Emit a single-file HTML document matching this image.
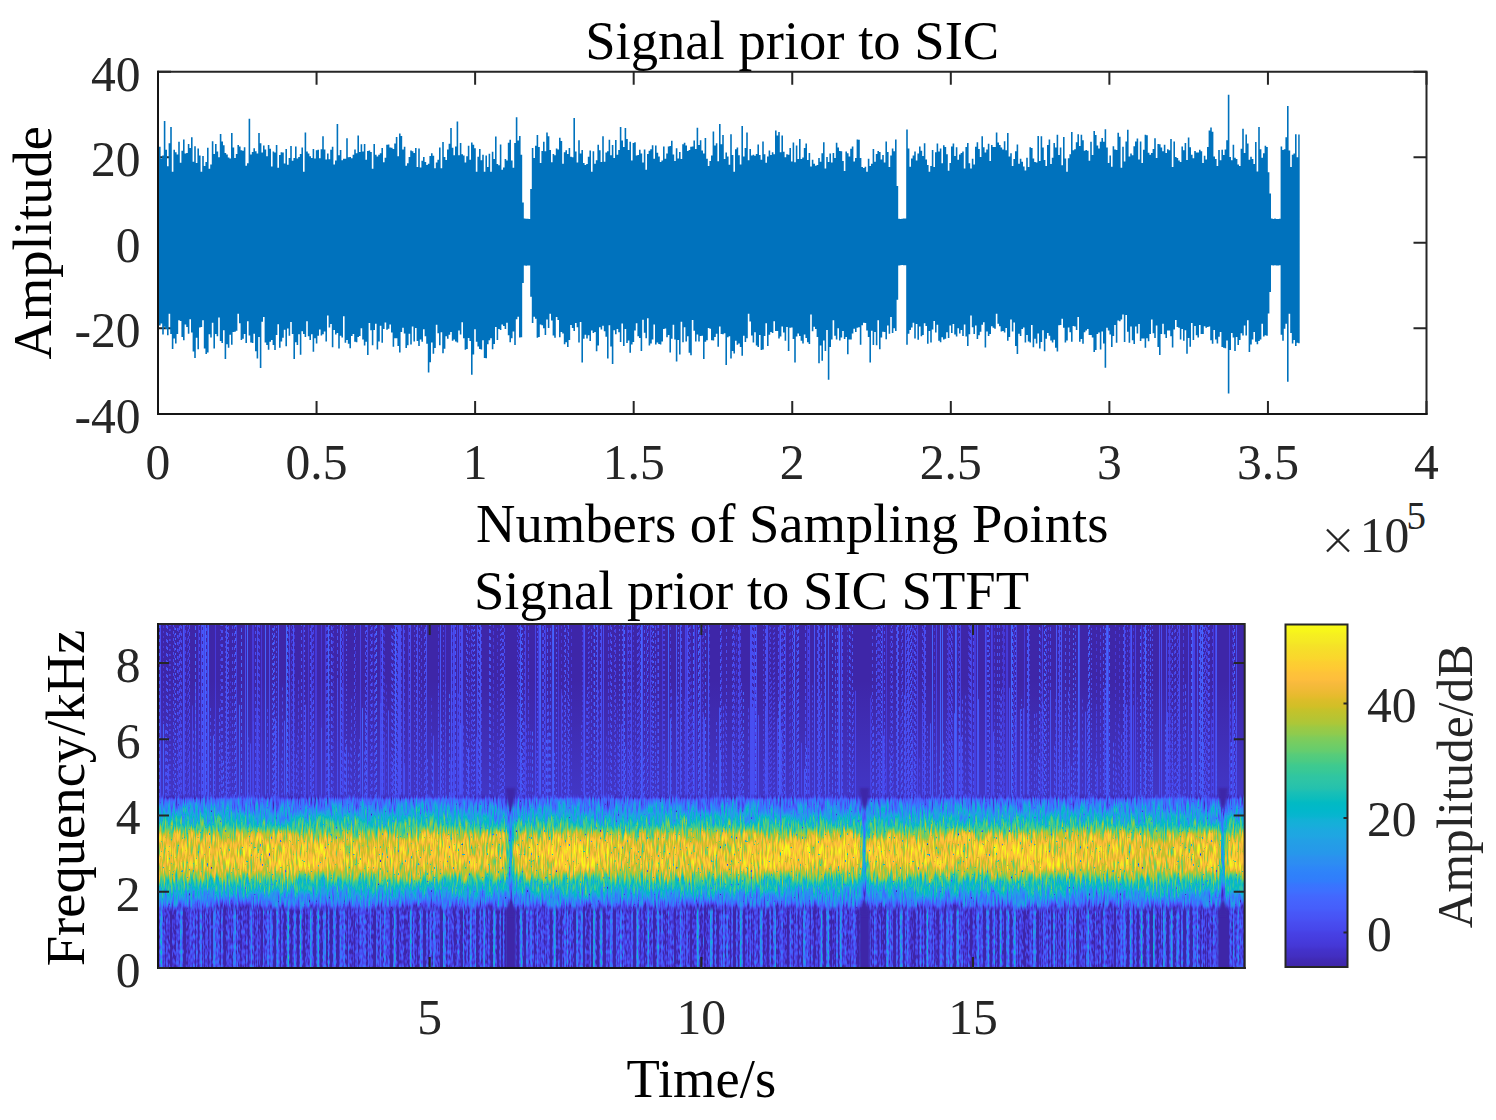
<!DOCTYPE html><html><head><meta charset="utf-8"><style>html,body{margin:0;padding:0;background:#fff;overflow:hidden}svg{display:block}text{font-family:"Liberation Serif",serif}</style></head><body><svg width="1496" height="1120" viewBox="0 0 1496 1120"><rect width="1496" height="1120" fill="#fff"/><path d="M158 413.9v-13M158 71.7v13M316.56 413.9v-13M316.56 71.7v13M475.12 413.9v-13M475.12 71.7v13M633.69 413.9v-13M633.69 71.7v13M792.25 413.9v-13M792.25 71.7v13M950.81 413.9v-13M950.81 71.7v13M1109.38 413.9v-13M1109.38 71.7v13M1267.94 413.9v-13M1267.94 71.7v13M1426.5 413.9v-13M1426.5 71.7v13M158 71.7h13M1426.5 71.7h-13M158 157.25h13M1426.5 157.25h-13M158 242.8h13M1426.5 242.8h-13M158 328.35h13M1426.5 328.35h-13M158 413.9h13M1426.5 413.9h-13" stroke="#262626" stroke-width="2" fill="none"/><path d="M159.0 242.8V146.7H160.6V158.4H162.2V155.6H163.8V120.9H165.4V149.7H167.0V166.2H168.6V143.2H170.2V127.1H171.8V171.8H173.4V149.8H175.0V152.3H176.6V154.4H178.2V141.8H179.8V162.7H181.4V150.8H183.0V139.5H184.6V153.5H186.2V153.1H187.8V143.9H189.4V148.1H191.0V137.3H192.6V161.7H194.2V146.2H195.8V163.1H197.4V148.5H199.0V155.4H200.6V171.8H202.2V156.0H203.8V165.9H205.4V162.1H207.0V147.8H208.6V168.8H210.2V164.4H211.8V141.2H213.4V154.0H215.0V144.1H216.6V151.5H218.2V157.3H219.8V133.9H221.4V141.6H223.0V145.3H224.6V152.9H226.2V154.4H227.8V157.4H229.4V158.5H231.0V132.9H232.6V147.6H234.2V158.0H235.8V154.1H237.4V145.0H239.0V146.5H240.6V150.3H242.2V150.8H243.8V147.2H245.4V165.8H247.0V163.3H248.6V118.8H250.2V154.6H251.8V152.0H253.4V148.3H255.0V151.3H256.6V153.4H258.2V133.0H259.8V143.3H261.4V152.4H263.0V145.6H264.6V149.4H266.2V156.2H267.8V145.1H269.4V148.8H271.0V166.6H272.6V151.5H274.2V152.6H275.8V145.1H277.4V167.8H279.0V155.1H280.6V152.2H282.2V152.5H283.8V163.5H285.4V149.0H287.0V164.8H288.6V158.0H290.2V146.1H291.8V160.7H293.4V158.0H295.0V146.4H296.6V158.4H298.2V157.0H299.8V154.0H301.4V147.4H303.0V171.8H304.6V132.5H306.2V151.4H307.8V153.4H309.4V156.2H311.0V158.1H312.6V149.1H314.2V158.5H315.8V150.2H317.4V149.8H319.0V158.3H320.6V149.3H322.2V136.2H323.8V149.4H325.4V159.5H327.0V153.5H328.6V159.2H330.2V149.8H331.8V146.8H333.4V164.5H335.0V160.4H336.6V123.9H338.2V155.3H339.8V150.1H341.4V160.2H343.0V158.7H344.6V158.7H346.2V138.2H347.8V157.3H349.4V157.1H351.0V158.2H352.6V154.7H354.2V149.5H355.8V153.2H357.4V135.5H359.0V151.9H360.6V144.3H362.2V151.4H363.8V144.1H365.4V159.8H367.0V150.9H368.6V150.5H370.2V152.0H371.8V168.7H373.4V144.0H375.0V154.8H376.6V156.5H378.2V154.7H379.8V153.2H381.4V148.0H383.0V162.2H384.6V157.7H386.2V144.7H387.8V144.4H389.4V147.4H391.0V147.7H392.6V149.1H394.2V143.6H395.8V137.0H397.4V156.3H399.0V133.5H400.6V136.1H402.2V149.6H403.8V146.7H405.4V165.8H407.0V163.3H408.6V157.0H410.2V150.5H411.8V151.3H413.4V152.9H415.0V147.9H416.6V167.1H418.2V148.5H419.8V167.4H421.4V160.7H423.0V157.1H424.6V162.0H426.2V165.1H427.8V163.8H429.4V156.1H431.0V153.3H432.6V155.8H434.2V168.2H435.8V162.6H437.4V159.7H439.0V147.4H440.6V168.2H442.2V141.9H443.8V157.1H445.4V160.0H447.0V149.4H448.6V143.7H450.2V128.0H451.8V147.8H453.4V155.3H455.0V146.6H456.6V121.6H458.2V155.3H459.8V142.9H461.4V154.2H463.0V155.4H464.6V162.4H466.2V156.2H467.8V145.8H469.4V159.7H471.0V142.5H472.6V144.8H474.2V148.3H475.8V171.8H477.4V156.7H479.0V149.1H480.6V160.3H482.2V154.7H483.8V171.8H485.4V155.5H487.0V166.9H488.6V153.8H490.2V171.8H491.8V151.7H493.4V159.1H495.0V136.6H496.6V164.0H498.2V165.2H499.8V144.4H501.4V169.7H503.0V167.6H504.6V159.1H506.2V160.5H507.8V142.8H509.4V139.8H511.0V160.4H512.6V167.7H514.2V142.9H515.8V117.3H517.4V140.5H519.0V136.0H520.6V154.8H522.2V202.6H523.8V218.6H525.4V218.7H527.0V218.8H528.6V219.1H530.2V188.9H531.8V148.1H533.4V158.0H535.0V145.7H536.6V134.9H538.2V147.0H539.8V162.9H541.4V150.9H543.0V141.7H544.6V151.2H546.2V132.6H547.8V136.2H549.4V150.0H551.0V162.3H552.6V153.9H554.2V155.3H555.8V148.4H557.4V149.5H559.0V137.7H560.6V141.1H562.2V163.7H563.8V152.2H565.4V150.2H567.0V154.0H568.6V147.9H570.2V156.8H571.8V157.2H573.4V118.1H575.0V151.4H576.6V162.6H578.2V140.3H579.8V153.4H581.4V150.1H583.0V163.0H584.6V165.1H586.2V164.0H587.8V156.7H589.4V150.5H591.0V171.8H592.6V151.3H594.2V163.8H595.8V160.3H597.4V144.7H599.0V150.2H600.6V162.0H602.2V136.2H603.8V161.7H605.4V152.6H607.0V151.2H608.6V139.8H610.2V155.2H611.8V144.9H613.4V158.0H615.0V139.9H616.6V154.7H618.2V149.9H619.8V126.9H621.4V140.4H623.0V147.1H624.6V128.0H626.2V138.9H627.8V150.0H629.4V141.7H631.0V160.4H632.6V143.0H634.2V142.3H635.8V155.6H637.4V154.9H639.0V149.8H640.6V153.6H642.2V162.6H643.8V149.4H645.4V169.7H647.0V154.0H648.6V150.8H650.2V149.2H651.8V145.2H653.4V158.7H655.0V145.4H656.6V152.7H658.2V156.4H659.8V162.0H661.4V160.4H663.0V146.5H664.6V158.7H666.2V153.5H667.8V146.5H669.4V146.1H671.0V140.7H672.6V154.6H674.2V160.9H675.8V148.2H677.4V158.4H679.0V152.1H680.6V159.1H682.2V144.3H683.8V142.8H685.4V145.5H687.0V151.0H688.6V150.0H690.2V146.8H691.8V146.6H693.4V140.5H695.0V149.1H696.6V127.8H698.2V145.0H699.8V140.2H701.4V150.6H703.0V153.4H704.6V138.1H706.2V158.7H707.8V166.0H709.4V160.9H711.0V155.6H712.6V131.4H714.2V145.5H715.8V143.2H717.4V161.2H719.0V124.1H720.6V144.2H722.2V135.0H723.8V159.0H725.4V152.6H727.0V156.6H728.6V164.7H730.2V134.2H731.8V155.1H733.4V171.8H735.0V149.2H736.6V147.6H738.2V155.2H739.8V164.5H741.4V126.0H743.0V156.4H744.6V147.9H746.2V132.5H747.8V160.3H749.4V149.1H751.0V155.6H752.6V154.8H754.2V155.7H755.8V154.1H757.4V144.6H759.0V155.0H760.6V159.7H762.2V141.4H763.8V154.2H765.4V162.7H767.0V156.5H768.6V150.5H770.2V154.9H771.8V152.2H773.4V154.2H775.0V130.6H776.6V135.6H778.2V131.9H779.8V152.2H781.4V135.6H783.0V151.8H784.6V157.3H786.2V154.3H787.8V154.8H789.4V148.0H791.0V161.6H792.6V142.6H794.2V162.2H795.8V145.6H797.4V159.1H799.0V139.0H800.6V159.1H802.2V157.4H803.8V148.0H805.4V143.6H807.0V160.1H808.6V153.1H810.2V166.5H811.8V159.7H813.4V163.8H815.0V165.8H816.6V165.0H818.2V158.0H819.8V161.8H821.4V153.3H823.0V142.3H824.6V168.6H826.2V156.9H827.8V161.9H829.4V153.5H831.0V162.5H832.6V153.0H834.2V157.9H835.8V142.7H837.4V147.4H839.0V151.0H840.6V151.3H842.2V160.9H843.8V171.1H845.4V151.6H847.0V153.2H848.6V156.4H850.2V148.8H851.8V146.4H853.4V161.6H855.0V158.0H856.6V139.5H858.2V139.7H859.8V158.0H861.4V166.9H863.0V168.1H864.6V166.8H866.2V171.8H867.8V158.7H869.4V165.9H871.0V163.7H872.6V148.9H874.2V161.7H875.8V154.1H877.4V150.9H879.0V152.0H880.6V159.5H882.2V155.1H883.8V162.4H885.4V141.4H887.0V151.9H888.6V166.9H890.2V155.6H891.8V148.5H893.4V151.3H895.0V139.4H896.6V185.9H898.2V218.7H899.8V219.1H901.4V218.7H903.0V218.6H904.6V218.6H906.2V129.5H907.8V148.6H909.4V166.7H911.0V158.5H912.6V155.5H914.2V151.5H915.8V160.5H917.4V153.6H919.0V146.5H920.6V150.8H922.2V156.1H923.8V143.3H925.4V159.5H927.0V165.1H928.6V171.8H930.2V166.1H931.8V149.9H933.4V166.9H935.0V152.3H936.6V143.6H938.2V151.4H939.8V148.4H941.4V163.3H943.0V145.3H944.6V146.9H946.2V154.2H947.8V170.7H949.4V163.1H951.0V146.4H952.6V143.6H954.2V156.0H955.8V147.3H957.4V159.8H959.0V154.4H960.6V153.1H962.2V151.4H963.8V168.6H965.4V147.1H967.0V143.1H968.6V163.3H970.2V168.4H971.8V158.7H973.4V164.4H975.0V146.7H976.6V142.3H978.2V148.9H979.8V157.1H981.4V136.2H983.0V147.3H984.6V152.4H986.2V149.4H987.8V143.7H989.4V160.9H991.0V144.9H992.6V147.1H994.2V147.1H995.8V132.4H997.4V142.4H999.0V145.0H1000.6V147.5H1002.2V149.6H1003.8V141.3H1005.4V150.3H1007.0V133.1H1008.6V156.4H1010.2V153.3H1011.8V166.1H1013.4V159.1H1015.0V151.2H1016.6V144.6H1018.2V163.8H1019.8V158.7H1021.4V161.8H1023.0V166.5H1024.6V170.6H1026.2V157.8H1027.8V167.0H1029.4V147.2H1031.0V148.0H1032.6V158.4H1034.2V162.0H1035.8V162.5H1037.4V135.9H1039.0V161.0H1040.6V136.2H1042.2V147.6H1043.8V159.9H1045.4V166.1H1047.0V145.1H1048.6V139.5H1050.2V163.9H1051.8V157.8H1053.4V143.0H1055.0V147.6H1056.6V134.7H1058.2V154.9H1059.8V147.5H1061.4V165.3H1063.0V137.1H1064.6V158.5H1066.2V171.8H1067.8V158.2H1069.4V154.2H1071.0V132.0H1072.6V150.2H1074.2V149.2H1075.8V142.3H1077.4V134.2H1079.0V146.0H1080.6V134.7H1082.2V140.2H1083.8V150.7H1085.4V150.1H1087.0V150.8H1088.6V160.7H1090.2V141.8H1091.8V155.0H1093.4V131.0H1095.0V134.9H1096.6V145.6H1098.2V148.6H1099.8V141.7H1101.4V138.1H1103.0V141.8H1104.6V129.3H1106.2V147.4H1107.8V162.9H1109.4V155.6H1111.0V166.8H1112.6V146.3H1114.2V149.4H1115.8V149.9H1117.4V132.7H1119.0V136.7H1120.6V167.8H1122.2V146.7H1123.8V161.5H1125.4V141.4H1127.0V129.7H1128.6V156.6H1130.2V153.4H1131.8V155.2H1133.4V146.2H1135.0V141.4H1136.6V138.4H1138.2V159.5H1139.8V141.4H1141.4V163.1H1143.0V149.7H1144.6V134.8H1146.2V135.2H1147.8V152.7H1149.4V154.7H1151.0V152.9H1152.6V149.0H1154.2V138.3H1155.8V157.9H1157.4V144.1H1159.0V144.2H1160.6V147.5H1162.2V151.3H1163.8V144.7H1165.4V152.9H1167.0V149.2H1168.6V150.2H1170.2V138.9H1171.8V167.0H1173.4V141.5H1175.0V157.1H1176.6V158.1H1178.2V160.6H1179.8V162.1H1181.4V146.4H1183.0V150.3H1184.6V142.9H1186.2V159.9H1187.8V137.6H1189.4V147.2H1191.0V154.8H1192.6V158.2H1194.2V151.0H1195.8V152.4H1197.4V152.6H1199.0V149.8H1200.6V151.3H1202.2V163.0H1203.8V155.8H1205.4V159.4H1207.0V147.1H1208.6V130.5H1210.2V127.6H1211.8V131.8H1213.4V156.4H1215.0V158.9H1216.6V166.1H1218.2V149.9H1219.8V160.3H1221.4V149.7H1223.0V155.0H1224.6V149.5H1226.2V140.3H1227.8V94.8H1229.4V157.1H1231.0V160.2H1232.6V144.8H1234.2V157.7H1235.8V159.1H1237.4V164.5H1239.0V165.9H1240.6V148.7H1242.2V128.7H1243.8V153.0H1245.4V134.5H1247.0V143.5H1248.6V159.8H1250.2V156.7H1251.8V158.9H1253.4V163.9H1255.0V142.1H1256.6V171.5H1258.2V126.9H1259.8V149.3H1261.4V157.8H1263.0V153.3H1264.6V145.8H1266.2V146.9H1267.8V172.2H1269.4V193.6H1271.0V218.5H1272.6V219.1H1274.2V218.6H1275.8V218.9H1277.4V219.0H1279.0V218.8H1280.6V146.6H1282.2V150.1H1283.8V149.3H1285.4V137.3H1287.0V105.9H1288.6V150.4H1290.2V166.9H1291.8V154.7H1293.4V153.6H1295.0V134.3H1296.6V157.3H1298.2V134.6H1299.7V343.2H1298.2V342.7H1296.6V345.9H1295.0V339.9H1293.4V343.5H1291.8V333.0H1290.2V313.8H1288.6V381.8H1287.0V323.7H1285.4V328.8H1283.8V340.7H1282.2V334.7H1280.6V265.3H1279.0V265.4H1277.4V265.6H1275.8V265.3H1274.2V265.6H1272.6V265.2H1271.0V292.0H1269.4V313.4H1267.8V335.7H1266.2V335.2H1264.6V336.4H1263.0V323.7H1261.4V339.5H1259.8V341.0H1258.2V344.2H1256.6V341.7H1255.0V332.1H1253.4V339.5H1251.8V344.6H1250.2V352.1H1248.6V320.2H1247.0V335.6H1245.4V325.6H1243.8V335.4H1242.2V333.2H1240.6V339.9H1239.0V344.9H1237.4V336.9H1235.8V351.0H1234.2V337.4H1232.6V333.1H1231.0V349.9H1229.4V393.4H1227.8V340.5H1226.2V348.2H1224.6V347.8H1223.0V346.9H1221.4V331.9H1219.8V336.8H1218.2V343.6H1216.6V339.6H1215.0V330.0H1213.4V343.7H1211.8V340.3H1210.2V326.5H1208.6V327.0H1207.0V327.7H1205.4V326.3H1203.8V333.9H1202.2V333.9H1200.6V325.0H1199.0V337.6H1197.4V335.3H1195.8V325.9H1194.2V339.9H1192.6V323.1H1191.0V346.8H1189.4V338.0H1187.8V353.8H1186.2V330.2H1184.6V340.7H1183.0V329.1H1181.4V339.4H1179.8V327.7H1178.2V327.0H1176.6V319.9H1175.0V329.6H1173.4V347.5H1171.8V336.3H1170.2V330.4H1168.6V330.5H1167.0V338.1H1165.4V334.2H1163.8V323.7H1162.2V334.0H1160.6V354.9H1159.0V347.1H1157.4V325.5H1155.8V338.1H1154.2V333.2H1152.6V319.5H1151.0V334.0H1149.4V341.2H1147.8V338.2H1146.2V347.7H1144.6V338.5H1143.0V338.5H1141.4V341.1H1139.8V323.9H1138.2V333.6H1136.6V326.5H1135.0V343.9H1133.4V340.3H1131.8V326.5H1130.2V342.8H1128.6V331.8H1127.0V315.1H1125.4V341.9H1123.8V314.5H1122.2V319.5H1120.6V321.3H1119.0V320.6H1117.4V342.8H1115.8V325.0H1114.2V336.0H1112.6V347.0H1111.0V334.4H1109.4V330.5H1107.8V327.8H1106.2V367.7H1104.6V343.5H1103.0V331.5H1101.4V349.5H1099.8V332.4H1098.2V333.9H1096.6V350.0H1095.0V352.1H1093.4V337.4H1091.8V335.1H1090.2V335.0H1088.6V328.9H1087.0V330.6H1085.4V332.2H1083.8V343.7H1082.2V338.9H1080.6V341.7H1079.0V316.9H1077.4V329.9H1075.8V326.4H1074.2V326.0H1072.6V341.7H1071.0V332.2H1069.4V327.6H1067.8V340.6H1066.2V342.5H1064.6V327.8H1063.0V318.8H1061.4V325.1H1059.8V325.2H1058.2V351.4H1056.6V347.8H1055.0V339.7H1053.4V342.6H1051.8V340.6H1050.2V335.8H1048.6V333.1H1047.0V338.7H1045.4V351.3H1043.8V330.3H1042.2V342.1H1040.6V348.5H1039.0V333.6H1037.4V343.4H1035.8V338.8H1034.2V347.3H1032.6V325.0H1031.0V342.4H1029.4V341.4H1027.8V334.9H1026.2V342.4H1024.6V327.5H1023.0V329.0H1021.4V336.0H1019.8V333.8H1018.2V354.0H1016.6V346.0H1015.0V322.5H1013.4V331.6H1011.8V319.4H1010.2V337.0H1008.6V340.7H1007.0V327.9H1005.4V332.4H1003.8V331.1H1002.2V331.5H1000.6V326.2H999.0V323.7H997.4V313.8H995.8V328.8H994.2V327.7H992.6V326.3H991.0V334.1H989.4V336.0H987.8V331.6H986.2V347.4H984.6V322.2H983.0V324.8H981.4V331.8H979.8V335.3H978.2V338.9H976.6V325.4H975.0V334.0H973.4V327.3H971.8V315.4H970.2V334.2H968.6V346.0H967.0V336.5H965.4V324.5H963.8V336.0H962.2V330.0H960.6V333.4H959.0V328.3H957.4V336.6H955.8V334.4H954.2V324.1H952.6V333.1H951.0V325.4H949.4V338.0H947.8V332.3H946.2V338.8H944.6V339.4H943.0V337.3H941.4V342.3H939.8V340.7H938.2V324.8H936.6V332.4H935.0V320.9H933.4V329.5H931.8V342.4H930.2V330.9H928.6V343.8H927.0V326.1H925.4V323.2H923.8V335.0H922.2V336.3H920.6V326.6H919.0V339.7H917.4V324.1H915.8V338.5H914.2V322.8H912.6V327.6H911.0V330.1H909.4V333.8H907.8V344.8H906.2V265.3H904.6V265.2H903.0V265.1H901.4V265.2H899.8V265.5H898.2V299.7H896.6V331.0H895.0V328.2H893.4V333.1H891.8V316.9H890.2V333.7H888.6V325.4H887.0V339.3H885.4V331.9H883.8V331.8H882.2V337.6H880.6V349.3H879.0V320.3H877.4V345.2H875.8V332.0H874.2V344.9H872.6V330.7H871.0V362.5H869.4V337.1H867.8V330.4H866.2V323.0H864.6V322.8H863.0V325.3H861.4V344.8H859.8V327.2H858.2V327.7H856.6V331.9H855.0V328.8H853.4V333.4H851.8V339.4H850.2V339.5H848.6V354.3H847.0V337.1H845.4V339.0H843.8V330.9H842.2V337.5H840.6V340.6H839.0V328.2H837.4V339.6H835.8V335.8H834.2V320.3H832.6V339.5H831.0V347.1H829.4V379.7H827.8V329.9H826.2V351.0H824.6V340.4H823.0V360.7H821.4V345.4H819.8V363.3H818.2V337.1H816.6V329.0H815.0V326.8H813.4V331.3H811.8V314.6H810.2V343.9H808.6V342.3H807.0V338.1H805.4V334.5H803.8V343.4H802.2V340.7H800.6V335.9H799.0V333.6H797.4V336.4H795.8V362.4H794.2V338.9H792.6V327.5H791.0V327.8H789.4V351.1H787.8V326.9H786.2V340.8H784.6V332.5H783.0V326.5H781.4V336.5H779.8V338.6H778.2V330.9H776.6V331.0H775.0V321.3H773.4V333.0H771.8V332.0H770.2V334.7H768.6V346.0H767.0V323.2H765.4V336.0H763.8V349.5H762.2V349.9H760.6V334.9H759.0V346.9H757.4V345.4H755.8V332.3H754.2V342.6H752.6V335.5H751.0V321.6H749.4V313.8H747.8V338.2H746.2V341.9H744.6V335.8H743.0V355.8H741.4V346.9H739.8V343.4H738.2V344.7H736.6V340.7H735.0V353.4H733.4V351.1H731.8V358.6H730.2V336.3H728.6V337.3H727.0V364.9H725.4V333.2H723.8V334.2H722.2V334.0H720.6V326.4H719.0V346.8H717.4V333.8H715.8V337.0H714.2V340.6H712.6V340.3H711.0V328.8H709.4V328.1H707.8V340.2H706.2V341.7H704.6V359.1H703.0V335.8H701.4V336.1H699.8V341.5H698.2V334.5H696.6V341.6H695.0V330.8H693.4V320.1H691.8V355.3H690.2V352.8H688.6V336.3H687.0V341.4H685.4V327.3H683.8V342.2H682.2V321.7H680.6V354.5H679.0V340.1H677.4V361.4H675.8V339.5H674.2V324.7H672.6V338.8H671.0V352.5H669.4V335.1H667.8V337.2H666.2V328.4H664.6V329.1H663.0V341.6H661.4V344.6H659.8V343.9H658.2V342.5H656.6V344.6H655.0V324.5H653.4V339.6H651.8V343.4H650.2V345.5H648.6V318.3H647.0V338.2H645.4V332.8H643.8V319.8H642.2V351.0H640.6V338.1H639.0V336.2H637.4V323.3H635.8V330.4H634.2V342.1H632.6V344.4H631.0V352.7H629.4V340.4H627.8V343.1H626.2V329.1H624.6V346.1H623.0V323.4H621.4V341.9H619.8V332.3H618.2V329.1H616.6V334.2H615.0V330.2H613.4V364.0H611.8V346.5H610.2V325.3H608.6V358.6H607.0V336.8H605.4V331.2H603.8V325.7H602.2V329.5H600.6V327.2H599.0V345.6H597.4V351.2H595.8V332.0H594.2V333.1H592.6V330.6H591.0V340.9H589.4V335.3H587.8V338.6H586.2V334.7H584.6V338.7H583.0V362.6H581.4V322.1H579.8V342.6H578.2V327.2H576.6V323.1H575.0V330.9H573.4V328.0H571.8V324.9H570.2V339.9H568.6V346.9H567.0V342.2H565.4V344.3H563.8V333.5H562.2V332.1H560.6V337.3H559.0V319.9H557.4V317.1H555.8V337.8H554.2V335.4H552.6V320.5H551.0V313.8H549.4V328.1H547.8V319.4H546.2V335.0H544.6V328.2H543.0V325.2H541.4V324.5H539.8V337.0H538.2V337.8H536.6V318.7H535.0V316.7H533.4V323.1H531.8V296.7H530.2V265.5H528.6V265.6H527.0V265.7H525.4V265.5H523.8V283.0H522.2V337.3H520.6V337.4H519.0V316.8H517.4V319.2H515.8V345.0H514.2V331.5H512.6V338.3H511.0V342.3H509.4V335.2H507.8V322.7H506.2V329.0H504.6V326.0H503.0V324.5H501.4V330.0H499.8V329.1H498.2V339.9H496.6V327.1H495.0V344.0H493.4V349.3H491.8V338.2H490.2V340.2H488.6V344.2H487.0V358.3H485.4V358.0H483.8V340.3H482.2V349.6H480.6V348.9H479.0V346.6H477.4V341.8H475.8V329.3H474.2V354.5H472.6V374.8H471.0V341.1H469.4V338.1H467.8V349.1H466.2V349.7H464.6V338.2H463.0V322.3H461.4V334.4H459.8V330.6H458.2V342.4H456.6V341.6H455.0V339.5H453.4V340.8H451.8V331.9H450.2V334.7H448.6V338.7H447.0V336.2H445.4V348.8H443.8V353.3H442.2V332.3H440.6V345.2H439.0V333.3H437.4V324.8H435.8V348.1H434.2V353.7H432.6V342.5H431.0V362.2H429.4V372.5H427.8V343.8H426.2V336.2H424.6V329.3H423.0V341.7H421.4V339.4H419.8V346.0H418.2V340.9H416.6V328.1H415.0V341.4H413.4V326.4H411.8V344.5H410.2V333.8H408.6V345.3H407.0V348.1H405.4V333.5H403.8V327.8H402.2V332.1H400.6V352.6H399.0V346.1H397.4V338.2H395.8V338.3H394.2V346.7H392.6V332.5H391.0V324.6H389.4V328.8H387.8V329.8H386.2V322.4H384.6V329.0H383.0V342.7H381.4V325.8H379.8V341.5H378.2V349.4H376.6V323.8H375.0V329.9H373.4V345.3H371.8V330.3H370.2V322.9H368.6V355.1H367.0V341.8H365.4V345.4H363.8V339.5H362.2V328.3H360.6V335.9H359.0V337.1H357.4V342.3H355.8V341.7H354.2V334.1H352.6V335.9H351.0V348.2H349.4V343.7H347.8V340.0H346.2V342.7H344.6V316.2H343.0V337.4H341.4V335.8H339.8V348.6H338.2V333.1H336.6V334.5H335.0V330.1H333.4V347.2H331.8V323.9H330.2V327.4H328.6V315.6H327.0V341.6H325.4V331.4H323.8V334.2H322.2V335.5H320.6V329.4H319.0V335.7H317.4V343.5H315.8V338.2H314.2V351.7H312.6V334.3H311.0V340.0H309.4V336.2H307.8V321.3H306.2V336.9H304.6V334.1H303.0V331.3H301.4V354.8H299.8V334.2H298.2V345.0H296.6V342.3H295.0V358.9H293.4V333.9H291.8V321.9H290.2V335.8H288.6V328.4H287.0V346.2H285.4V329.7H283.8V337.7H282.2V341.4H280.6V347.7H279.0V324.3H277.4V335.1H275.8V350.1H274.2V345.0H272.6V340.1H271.0V341.8H269.4V349.8H267.8V345.0H266.2V342.5H264.6V317.1H263.0V321.7H261.4V368.0H259.8V337.0H258.2V358.4H256.6V351.3H255.0V333.8H253.4V343.1H251.8V342.4H250.2V335.4H248.6V321.3H247.0V343.1H245.4V334.0H243.8V338.8H242.2V340.0H240.6V323.3H239.0V313.8H237.4V330.7H235.8V331.7H234.2V332.1H232.6V344.8H231.0V334.8H229.4V347.8H227.8V344.3H226.2V359.1H224.6V330.2H223.0V342.9H221.4V341.0H219.8V317.6H218.2V336.2H216.6V333.9H215.0V348.6H213.4V322.7H211.8V337.4H210.2V334.3H208.6V352.5H207.0V354.1H205.4V348.5H203.8V320.3H202.2V326.9H200.6V327.6H199.0V349.3H197.4V337.8H195.8V358.1H194.2V351.5H192.6V332.6H191.0V319.2H189.4V333.8H187.8V327.1H186.2V324.4H184.6V340.2H183.0V336.9H181.4V321.1H179.8V320.2H178.2V333.9H176.6V343.6H175.0V338.5H173.4V349.1H171.8V334.1H170.2V313.8H168.6V335.3H167.0V329.0H165.4V326.8H163.8V334.5H162.2V323.6H160.6V325.5H159.0Z" fill="#0072bd"/><path d="M1426.5 413.9V71.7H158" fill="none" stroke="#262626" stroke-width="2" stroke-linecap="square"/><path d="M158 71.7V413.9H1426.5" fill="none" stroke="#151515" stroke-width="2" stroke-linecap="square"/><g font-size="49.6" fill="#262626" text-anchor="middle"><text x="158" y="478.5">0</text><text x="316.56" y="478.5">0.5</text><text x="475.12" y="478.5">1</text><text x="633.69" y="478.5">1.5</text><text x="792.25" y="478.5">2</text><text x="950.81" y="478.5">2.5</text><text x="1109.38" y="478.5">3</text><text x="1267.94" y="478.5">3.5</text><text x="1426.5" y="478.5">4</text></g><g font-size="49.6" fill="#262626" text-anchor="end"><text x="140.5" y="90.7">40</text><text x="140.5" y="176.25">20</text><text x="140.5" y="261.8">0</text><text x="140.5" y="347.35">-20</text><text x="140.5" y="432.9">-40</text></g><defs><clipPath id="sc"><rect x="158.0" y="624.0" width="1086.7" height="344"/></clipPath><linearGradient id="bg" x1="0" y1="0" x2="0" y2="1"><stop offset="0" stop-color="#000000"/><stop offset="0.05" stop-color="#0f0f0f"/><stop offset="0.08" stop-color="#333333"/><stop offset="0.13" stop-color="#454545"/><stop offset="0.19" stop-color="#595959"/><stop offset="0.24" stop-color="#707070"/><stop offset="0.29" stop-color="#878787"/><stop offset="0.33" stop-color="#a1a1a1"/><stop offset="0.36" stop-color="#b8b8b8"/><stop offset="0.41" stop-color="#cccccc"/><stop offset="0.49" stop-color="#d4d4d4"/><stop offset="0.57" stop-color="#d4d4d4"/><stop offset="0.62" stop-color="#cfcfcf"/><stop offset="0.66" stop-color="#c2c2c2"/><stop offset="0.71" stop-color="#a6a6a6"/><stop offset="0.76" stop-color="#878787"/><stop offset="0.81" stop-color="#737373"/><stop offset="0.85" stop-color="#5e5e5e"/><stop offset="0.89" stop-color="#4c4c4c"/><stop offset="0.93" stop-color="#383838"/><stop offset="0.96" stop-color="#212121"/><stop offset="1" stop-color="#000000"/></linearGradient><linearGradient id="gd" x1="0" y1="0" x2="1" y2="0"><stop offset="0" stop-color="#3e26a8" stop-opacity="0"/><stop offset="0.25" stop-color="#3e26a8" stop-opacity="1"/><stop offset="0.75" stop-color="#3e26a8" stop-opacity="1"/><stop offset="1" stop-color="#3e26a8" stop-opacity="0"/></linearGradient><linearGradient id="tw" x1="0" y1="0" x2="0" y2="1"><stop offset="0" stop-color="#4851f4" stop-opacity="0"/><stop offset="1" stop-color="#4851f4" stop-opacity="0.4"/></linearGradient><linearGradient id="gg" x1="0" y1="0" x2="1" y2="0"><stop offset="0" stop-color="#000" stop-opacity="0"/><stop offset="0.3" stop-color="#000" stop-opacity="1"/><stop offset="0.7" stop-color="#000" stop-opacity="1"/><stop offset="1" stop-color="#000" stop-opacity="0"/></linearGradient><filter id="bf" x="158.0" y="790" width="1086.7" height="122" filterUnits="userSpaceOnUse" color-interpolation-filters="sRGB"><feTurbulence type="fractalNoise" baseFrequency="0.55 0.07" numOctaves="2" seed="5" result="n"/><feColorMatrix in="n" type="matrix" values="1 0 0 0 0 1 0 0 0 0 1 0 0 0 0 0 0 0 0 1" result="ng"/><feTurbulence type="fractalNoise" baseFrequency="0.015 0.03" numOctaves="1" seed="9" result="m"/><feColorMatrix in="m" type="matrix" values="1 0 0 0 0 1 0 0 0 0 1 0 0 0 0 0 0 0 0 1" result="mg"/><feTurbulence type="fractalNoise" baseFrequency="0.55 0.3" numOctaves="1" seed="21" result="d"/><feComponentTransfer in="d" result="dd"><feFuncR type="linear" slope="-9" intercept="7.3"/><feFuncA type="linear" slope="0" intercept="1"/></feComponentTransfer><feColorMatrix in="dd" type="matrix" values="1 0 0 0 0 1 0 0 0 0 1 0 0 0 0 0 0 0 0 1" result="dg"/><feComposite in="SourceGraphic" in2="ng" operator="arithmetic" k1="0" k2="1" k3="0.65" k4="-0.325" result="v1"/><feComposite in="v1" in2="mg" operator="arithmetic" k1="0" k2="1" k3="0.18" k4="-0.09" result="v2"/><feComposite in="v2" in2="dg" operator="arithmetic" k1="1" k2="0" k3="0" k4="0" result="v"/><feComponentTransfer in="v"><feFuncR type="table" tableValues="0.242 0.258 0.271 0.278 0.281 0.279 0.268 0.239 0.193 0.178 0.164 0.143 0.120 0.084 0.018 0.024 0.119 0.184 0.234 0.321 0.426 0.543 0.656 0.761 0.854 0.932 0.992 0.995 0.980 0.961 0.963 0.977"/><feFuncG type="table" tableValues="0.150 0.182 0.216 0.258 0.303 0.348 0.394 0.441 0.491 0.535 0.577 0.616 0.653 0.686 0.714 0.736 0.754 0.772 0.789 0.799 0.803 0.796 0.782 0.762 0.743 0.730 0.741 0.786 0.836 0.887 0.937 0.984"/><feFuncB type="table" tableValues="0.660 0.753 0.839 0.901 0.944 0.974 0.991 0.998 0.987 0.963 0.931 0.904 0.884 0.851 0.805 0.753 0.698 0.639 0.572 0.494 0.407 0.319 0.234 0.171 0.158 0.204 0.237 0.205 0.178 0.154 0.127 0.081"/></feComponentTransfer></filter><linearGradient id="bmg" x1="0" y1="0" x2="0" y2="1"><stop offset="0.03" stop-color="#fff" stop-opacity="0"/><stop offset="0.07" stop-color="#fff" stop-opacity="1"/><stop offset="0.95" stop-color="#fff" stop-opacity="1"/><stop offset="1.02" stop-color="#fff" stop-opacity="0"/></linearGradient><mask id="bm" maskUnits="userSpaceOnUse" x="158.0" y="790" width="1086.7" height="122"><rect x="158.0" y="790" width="1086.7" height="122" fill="url(#bmg)"/></mask><filter id="lf" x="158.0" y="896" width="1086.7" height="72" filterUnits="userSpaceOnUse" color-interpolation-filters="sRGB"><feTurbulence type="fractalNoise" baseFrequency="0.6 0.2" numOctaves="1" seed="31" result="n"/><feColorMatrix in="n" type="matrix" values="1 0 0 0 0 1 0 0 0 0 1 0 0 0 0 0 0 0 0 1" result="ng"/><feTurbulence type="fractalNoise" baseFrequency="0.3 0" numOctaves="2" seed="41" result="c"/><feColorMatrix in="c" type="matrix" values="1 0 0 0 0 1 0 0 0 0 1 0 0 0 0 0 0 0 0 1" result="cg"/><feComposite in="SourceGraphic" in2="ng" operator="arithmetic" k1="0" k2="1" k3="0.5" k4="-0.25" result="v1"/><feComposite in="v1" in2="cg" operator="arithmetic" k1="0" k2="1" k3="1.2" k4="-0.6" result="v"/><feComponentTransfer in="v"><feFuncR type="table" tableValues="0.242 0.258 0.271 0.278 0.281 0.279 0.268 0.239 0.193 0.178 0.164 0.143 0.120 0.084 0.018 0.024 0.119 0.184 0.234 0.321 0.426 0.543 0.656 0.761 0.854 0.932 0.992 0.995 0.980 0.961 0.963 0.977"/><feFuncG type="table" tableValues="0.150 0.182 0.216 0.258 0.303 0.348 0.394 0.441 0.491 0.535 0.577 0.616 0.653 0.686 0.714 0.736 0.754 0.772 0.789 0.799 0.803 0.796 0.782 0.762 0.743 0.730 0.741 0.786 0.836 0.887 0.937 0.984"/><feFuncB type="table" tableValues="0.660 0.753 0.839 0.901 0.944 0.974 0.991 0.998 0.987 0.963 0.931 0.904 0.884 0.851 0.805 0.753 0.698 0.639 0.572 0.494 0.407 0.319 0.234 0.171 0.158 0.204 0.237 0.205 0.178 0.154 0.127 0.081"/></feComponentTransfer></filter><filter id="nb" x="-50%" y="-50%" width="200%" height="200%"><feGaussianBlur stdDeviation="0.8"/></filter><filter id="sb" x="-1%" y="-1%" width="102%" height="102%" color-interpolation-filters="sRGB"><feGaussianBlur stdDeviation="0.55"/></filter></defs><g clip-path="url(#sc)"><rect x="158.0" y="624.0" width="1086.7" height="344" fill="#3e26a8"/><g filter="url(#sb)"><path d="M187.5 617V801M288.5 615V801M291.5 619V801M355.5 616V801M383.5 619V801M384.5 620V801M452.5 618V801M497.5 614V801M561.5 619V801M567.5 616V801M571.5 615V801M593.5 618V801M648.5 617V801M690.5 619V801M703.5 614V801M709.5 620V801M789.5 619V801M790.5 618V801M877.5 620V801M890.5 615V801M913.5 614V801M934.5 614V801M958.5 616V801M968.5 617V801M1002.5 617V801M1040.5 614V801M1096.5 620V801M1115.5 617V801M1119.5 620V801M1129.5 615V801M1133.5 614V801M1232.5 616V801M202.5 905V972M740.5 900V972M848.5 904V972M986.5 901V972M1024.5 901V972M276.5 726.94V801M304.5 736.74V801M360.5 756.41V801M386.5 684.69V801M431.5 697.85V801M478.5 697.68V801M517.5 707.43V801M536.5 750.19V801M606.5 736.48V801M617.5 703.39V801M691.5 681.14V801M796.5 682.36V801M837.5 725.57V801M842.5 732.33V801M893.5 746.42V801M900.5 717.35V801M929.5 749.02V801M1055.5 699.02V801" stroke="#4539d9" stroke-width="1" stroke-dasharray="3 4" fill="none"/><path d="M178.5 614V801M294.5 614V801M372.5 619V801M438.5 620V801M493.5 617V801M639.5 616V801M646.5 615V801M657.5 617V801M736.5 614V801M769.5 619V801M912.5 614V801M952.5 615V801M994.5 617V801M1004.5 618V801M1014.5 617V801M1168.5 615V801M1170.5 615V801M1178.5 615V801M1207.5 614V801M291.5 903V972M500.5 899V972M743.5 902V972M797.5 902V972M988.5 899V972M258.5 718.73V801M442.5 762.26V801M454.5 684.92V801M499.5 740.05V801M530.5 730.96V801M567.5 746.78V801M624.5 764.42V801M664.5 746.39V801M685.5 722.45V801M694.5 720.94V801M725.5 703.76V801M764.5 758.7V801M798.5 765.98V801M835.5 711V801M919.5 758.42V801M977.5 733.07V801M1074.5 712.43V801M1161.5 701.77V801M1173.5 767.76V801M1233.5 704.89V801" stroke="#4539d9" stroke-width="1" stroke-dasharray="4 3" fill="none"/><path d="M163.5 616V801M170.5 619V801M220.5 619V801M333.5 616V801M393.5 618V801M518.5 617V801M582.5 615V801M589.5 616V801M629.5 620V801M633.5 615V801M702.5 617V801M796.5 620V801M847.5 615V801M916.5 619V801M1171.5 618V801M350.5 902V972M545.5 900V972M1074.5 904V972M230.5 681.21V801M390.5 751.71V801M565.5 699.6V801M768.5 727.66V801M905.5 717.71V801M963.5 765.66V801M1073.5 711.84V801M1149.5 764.79V801M1180.5 734.13V801" stroke="#4539d9" stroke-width="1" stroke-dasharray="2 3" fill="none"/><path d="M198.5 614V801M215.5 619V801M252.5 618V801M253.5 618V801M261.5 619V801M303.5 618V801M308.5 615V801M315.5 616V801M316.5 619V801M321.5 616V801M325.5 619V801M343.5 617V801M380.5 617V801M408.5 617V801M445.5 614V801M538.5 616V801M558.5 616V801M627.5 616V801M662.5 615V801M686.5 615V801M696.5 617V801M779.5 615V801M807.5 616V801M886.5 617V801M948.5 617V801M974.5 615V801M975.5 617V801M986.5 616V801M992.5 618V801M1003.5 618V801M1006.5 620V801M1007.5 615V801M1024.5 616V801M1141.5 615V801M1213.5 615V801M1229.5 617V801M182.5 899V972M194.5 899V972M534.5 902V972M587.5 904V972M839.5 905V972M910.5 900V972M256.5 707.69V801M384.5 736.92V801M450.5 759.8V801M547.5 737.43V801M870.5 697.92V801M884.5 728.35V801M958.5 735.67V801M1006.5 735.75V801M1040.5 713.26V801M1067.5 737.43V801M1211.5 718.43V801" stroke="#4539d9" stroke-width="1" fill="none"/><path d="M174.5 620V801M185.5 616V801M188.5 615V801M258.5 617V801M259.5 618V801M312.5 618V801M332.5 620V801M391.5 614V801M401.5 614V801M404.5 616V801M421.5 617V801M469.5 617V801M481.5 620V801M519.5 619V801M524.5 617V801M630.5 616V801M638.5 618V801M670.5 620V801M781.5 618V801M850.5 615V801M879.5 620V801M901.5 618V801M906.5 619V801M923.5 614V801M950.5 617V801M1048.5 620V801M1058.5 616V801M1125.5 616V801M1174.5 616V801M1212.5 615V801M282.5 899V972M325.5 903V972M338.5 899V972M467.5 902V972M909.5 900V972M1094.5 901V972M195.5 685.96V801M267.5 709.08V801M350.5 739.6V801M392.5 766.67V801M417.5 727.98V801M452.5 757.73V801M463.5 725.5V801M526.5 725.32V801M581.5 724.95V801M586.5 700.81V801M598.5 690.46V801M630.5 698.66V801M647.5 738.5V801M755.5 689.79V801M767.5 737.79V801M849.5 752.27V801M853.5 692.05V801M871.5 695.3V801M885.5 768.87V801M889.5 739.5V801M902.5 748.99V801M942.5 688.51V801M991.5 680.19V801M1031.5 733.1V801M1061.5 762.43V801M1082.5 699.61V801M1088.5 714.56V801M1096.5 706.52V801M1118.5 723.65V801M1150.5 694.49V801M1159.5 722.59V801M1235.5 716.28V801" stroke="#4743e7" stroke-width="1" stroke-dasharray="3 4" fill="none"/><path d="M180.5 617V801M313.5 616V801M326.5 620V801M342.5 620V801M374.5 620V801M381.5 616V801M397.5 618V801M460.5 618V801M471.5 615V801M528.5 619V801M542.5 619V801M608.5 619V801M610.5 618V801M615.5 615V801M721.5 615V801M734.5 615V801M740.5 615V801M782.5 617V801M808.5 615V801M824.5 619V801M878.5 619V801M892.5 615V801M949.5 615V801M969.5 618V801M1013.5 620V801M1046.5 614V801M1100.5 614V801M1177.5 618V801M1183.5 615V801M1205.5 617V801M1206.5 620V801M481.5 900V972M576.5 900V972M691.5 902V972M744.5 899V972M978.5 905V972M1006.5 899V972M1033.5 902V972M178.5 729.61V801M189.5 753.47V801M273.5 690.56V801M298.5 680.17V801M329.5 756.04V801M458.5 693.73V801M521.5 756.42V801M525.5 724.66V801M632.5 752.06V801M635.5 693.26V801M642.5 759.92V801M671.5 689.07V801M677.5 695.69V801M681.5 742.72V801M692.5 714.24V801M748.5 708.24V801M820.5 693.77V801M911.5 769.72V801M922.5 706.32V801M1000.5 696.45V801M1036.5 713.38V801M1043.5 704.87V801M1065.5 719.06V801M1115.5 751.01V801M1131.5 698.81V801M1213.5 698.62V801M1229.5 753.31V801M1230.5 700.4V801" stroke="#4743e7" stroke-width="1" stroke-dasharray="4 3" fill="none"/><path d="M169.5 614V801M225.5 616V801M292.5 614V801M370.5 614V801M414.5 620V801M443.5 615V801M472.5 619V801M517.5 615V801M614.5 615V801M651.5 620V801M663.5 619V801M664.5 614V801M763.5 614V801M770.5 617V801M773.5 618V801M774.5 617V801M783.5 619V801M880.5 619V801M947.5 618V801M959.5 616V801M1029.5 619V801M1060.5 615V801M1127.5 620V801M1143.5 617V801M1025.5 905V972M167.5 765.43V801M180.5 720.41V801M181.5 749.42V801M229.5 751.78V801M248.5 737.55V801M257.5 705.74V801M297.5 735.23V801M652.5 705.72V801M667.5 765.74V801M684.5 699.11V801M771.5 680.69V801M829.5 756.96V801M917.5 740.84V801M989.5 707.5V801M1041.5 681.51V801M1089.5 680.8V801M1137.5 697.41V801M1176.5 766.53V801M1184.5 726.64V801" stroke="#4743e7" stroke-width="1" stroke-dasharray="2 3" fill="none"/><path d="M184.5 620V801M204.5 619V801M207.5 618V801M236.5 614V801M311.5 620V801M360.5 616V801M367.5 616V801M454.5 615V801M457.5 615V801M525.5 615V801M535.5 616V801M545.5 614V801M583.5 619V801M650.5 615V801M685.5 619V801M694.5 619V801M739.5 617V801M754.5 616V801M785.5 616V801M809.5 620V801M838.5 615V801M882.5 617V801M917.5 617V801M936.5 619V801M960.5 619V801M971.5 616V801M991.5 615V801M1016.5 617V801M1042.5 619V801M1108.5 619V801M1130.5 615V801M1135.5 617V801M1169.5 617V801M1188.5 620V801M1193.5 616V801M1194.5 617V801M1215.5 615V801M183.5 900V972M316.5 899V972M337.5 904V972M555.5 905V972M669.5 901V972M698.5 905V972M192.5 705.48V801M253.5 721.17V801M476.5 737.21V801M561.5 692.26V801M621.5 724.4V801M668.5 712.32V801M777.5 718.5V801M801.5 742.86V801M855.5 690.75V801M879.5 757.87V801M1015.5 716.02V801M1027.5 714.89V801M1078.5 692.04V801M1097.5 766.07V801M1104.5 687.62V801M1133.5 705.37V801M1232.5 702.35V801" stroke="#4743e7" stroke-width="1" fill="none"/><path d="M166.5 618V801M173.5 617V801M177.5 614V801M181.5 619V801M199.5 616V801M206.5 614V801M221.5 616V801M222.5 616V801M232.5 619V801M234.5 619V801M255.5 617V801M327.5 620V801M341.5 617V801M365.5 617V801M409.5 618V801M416.5 620V801M419.5 614V801M424.5 615V801M425.5 620V801M466.5 614V801M478.5 615V801M502.5 618V801M503.5 618V801M544.5 616V801M550.5 614V801M591.5 615V801M600.5 619V801M628.5 616V801M637.5 619V801M640.5 620V801M652.5 618V801M681.5 617V801M688.5 614V801M726.5 615V801M732.5 615V801M793.5 614V801M817.5 616V801M872.5 615V801M884.5 617V801M909.5 617V801M922.5 619V801M989.5 618V801M999.5 618V801M1075.5 614V801M1146.5 616V801M1175.5 615V801M1204.5 620V801M1209.5 616V801M592.5 904V972M674.5 904V972M714.5 905V972M832.5 903V972M852.5 904V972M1027.5 903V972M1066.5 902V972M1093.5 901V972M193.5 730.64V801M210.5 707.96V801M282.5 687.5V801M342.5 687.6V801M351.5 698.72V801M359.5 739.13V801M364.5 751.52V801M438.5 685.87V801M445.5 683.84V801M562.5 695.58V801M587.5 686.99V801M603.5 763.32V801M618.5 745.92V801M713.5 762.4V801M716.5 722.1V801M741.5 682.98V801M756.5 730.23V801M808.5 754.99V801M924.5 681.98V801M940.5 734.67V801M965.5 695.57V801M1077.5 740.41V801M1172.5 719.48V801M1179.5 764.71V801" stroke="#484ef1" stroke-width="1" stroke-dasharray="3 4" fill="none"/><path d="M179.5 619V801M189.5 618V801M228.5 619V801M274.5 619V801M337.5 615V801M396.5 616V801M504.5 614V801M543.5 619V801M655.5 619V801M733.5 620V801M738.5 616V801M752.5 616V801M753.5 617V801M765.5 615V801M778.5 620V801M792.5 617V801M805.5 619V801M819.5 619V801M821.5 614V801M842.5 614V801M896.5 620V801M902.5 615V801M907.5 616V801M915.5 617V801M925.5 616V801M951.5 620V801M970.5 619V801M973.5 620V801M1050.5 620V801M1069.5 617V801M1144.5 620V801M1233.5 617V801M304.5 899V972M315.5 902V972M456.5 905V972M804.5 903V972M943.5 899V972M1017.5 901V972M165.5 729.87V801M296.5 754.27V801M337.5 680.92V801M348.5 752.68V801M381.5 688.8V801M393.5 758.35V801M523.5 720.95V801M548.5 704.42V801M723.5 706.21V801M962.5 699.77V801M1001.5 689.62V801M1034.5 714V801M1054.5 745.9V801M1069.5 759.85V801M1087.5 704.31V801M1121.5 734.56V801M1168.5 741.18V801" stroke="#484ef1" stroke-width="1" stroke-dasharray="4 3" fill="none"/><path d="M276.5 616V801M329.5 619V801M394.5 619V801M473.5 615V801M500.5 619V801M501.5 618V801M537.5 616V801M564.5 615V801M588.5 617V801M689.5 617V801M1091.5 618V801M1148.5 619V801M1152.5 619V801M1203.5 617V801M174.5 904V972M1054.5 902V972M214.5 719.05V801M281.5 758.35V801M310.5 754.25V801M443.5 756.15V801M524.5 742.28V801M569.5 699.02V801M594.5 766.94V801M805.5 736.83V801M812.5 685.38V801M927.5 726.15V801M946.5 721.19V801M1116.5 767.65V801" stroke="#484ef1" stroke-width="1" stroke-dasharray="2 3" fill="none"/><path d="M160.5 620V801M201.5 617V801M245.5 615V801M257.5 615V801M269.5 618V801M289.5 617V801M398.5 620V801M399.5 615V801M400.5 618V801M403.5 620V801M410.5 618V801M417.5 614V801M426.5 618V801M453.5 614V801M459.5 617V801M461.5 616V801M462.5 618V801M477.5 615V801M597.5 614V801M601.5 620V801M603.5 616V801M623.5 617V801M631.5 619V801M642.5 617V801M687.5 615V801M700.5 617V801M750.5 619V801M751.5 616V801M756.5 619V801M766.5 616V801M767.5 618V801M818.5 617V801M841.5 619V801M905.5 616V801M908.5 620V801M924.5 616V801M985.5 619V801M1059.5 616V801M1079.5 614V801M1124.5 616V801M1159.5 614V801M1161.5 616V801M1166.5 616V801M1179.5 617V801M1197.5 617V801M1236.5 614V801M326.5 901V972M644.5 905V972M818.5 900V972M913.5 903V972M976.5 901V972M1067.5 901V972M1146.5 903V972M1153.5 900V972M168.5 764.09V801M250.5 743.6V801M305.5 704.67V801M380.5 703.19V801M404.5 765.93V801M433.5 735.73V801M568.5 754.56V801M703.5 714.27V801M704.5 719.12V801M732.5 743.98V801M752.5 706.74V801M753.5 700.67V801M758.5 715.06V801M883.5 735.63V801M961.5 736.92V801M993.5 731.62V801M1009.5 687.79V801M1023.5 708.14V801M1085.5 711.74V801M1126.5 704.33V801M1167.5 711.94V801M1197.5 731.61V801" stroke="#484ef1" stroke-width="1" fill="none"/><path d="M159.5 618V801M167.5 619V801M301.5 616V801M310.5 614V801M354.5 619V801M371.5 620V801M375.5 619V801M392.5 615V801M467.5 616V801M490.5 616V801M611.5 620V801M644.5 616V801M837.5 614V801M852.5 617V801M898.5 617V801M910.5 614V801M914.5 616V801M997.5 618V801M1065.5 617V801M1103.5 619V801M1123.5 620V801M1172.5 618V801M232.5 902V972M477.5 902V972M532.5 901V972M556.5 905V972M653.5 902V972M345.5 739.82V801M400.5 736.23V801M427.5 759.24V801M441.5 724.28V801M479.5 685.83V801M554.5 752.99V801M625.5 746.74V801M629.5 751.56V801M643.5 757.68V801M693.5 711.84V801M819.5 698.38V801M912.5 736.91V801M939.5 765.9V801M1063.5 769.22V801M1108.5 750.35V801M1177.5 765.07V801" stroke="#4758f8" stroke-width="1" stroke-dasharray="3 4" fill="none"/><path d="M202.5 616V801M331.5 619V801M455.5 616V801M479.5 616V801M489.5 615V801M547.5 614V801M565.5 614V801M568.5 618V801M658.5 617V801M699.5 614V801M720.5 617V801M797.5 616V801M798.5 615V801M835.5 614V801M876.5 615V801M911.5 618V801M1027.5 615V801M1088.5 618V801M1150.5 616V801M1201.5 616V801M1208.5 616V801M263.5 899V972M428.5 903V972M1035.5 903V972M219.5 708.02V801M313.5 699.9V801M344.5 752.53V801M765.5 710.31V801M781.5 733.06V801M873.5 725.83V801M904.5 695.3V801M936.5 745.81V801M1038.5 757.8V801M1042.5 703.14V801M1068.5 691.59V801M1071.5 765.87V801M1113.5 742.61V801M1185.5 684.18V801M1203.5 742.92V801" stroke="#4758f8" stroke-width="1" stroke-dasharray="4 3" fill="none"/><path d="M227.5 617V801M272.5 618V801M304.5 615V801M346.5 614V801M366.5 615V801M522.5 618V801M556.5 617V801M596.5 620V801M619.5 619V801M622.5 614V801M678.5 617V801M891.5 616V801M987.5 615V801M988.5 620V801M1105.5 618V801M499.5 901V972M673.5 903V972M721.5 904V972M221.5 745.5V801M365.5 702.86V801M619.5 724.98V801M657.5 751.18V801M742.5 731.31V801M832.5 764.6V801M914.5 761.44V801M971.5 756.37V801M1021.5 698.98V801M1151.5 759.62V801M1178.5 684.21V801M1195.5 764.91V801" stroke="#4758f8" stroke-width="1" stroke-dasharray="2 3" fill="none"/><path d="M183.5 614V801M203.5 618V801M226.5 617V801M278.5 616V801M293.5 618V801M340.5 615V801M382.5 616V801M440.5 616V801M451.5 619V801M480.5 616V801M520.5 615V801M539.5 617V801M552.5 616V801M584.5 616V801M676.5 618V801M680.5 618V801M708.5 619V801M780.5 620V801M814.5 620V801M828.5 619V801M897.5 618V801M956.5 615V801M977.5 620V801M1028.5 617V801M1056.5 618V801M1061.5 620V801M1106.5 620V801M1131.5 615V801M1192.5 618V801M1200.5 617V801M1216.5 617V801M443.5 904V972M183.5 699.75V801M275.5 719.12V801M284.5 720.74V801M321.5 727.71V801M346.5 744.65V801M388.5 710.42V801M460.5 724.95V801M468.5 747.6V801M719.5 707.48V801M804.5 768.89V801M930.5 723.4V801M954.5 713.32V801M978.5 699.18V801M1020.5 709.24V801M1050.5 690.21V801" stroke="#4758f8" stroke-width="1" fill="none"/><path d="M235.5 617V801M273.5 614V801M521.5 620V801M647.5 619V801M705.5 619V801M755.5 617V801M784.5 616V801M832.5 619V801M849.5 614V801M1039.5 620V801M1044.5 617V801M1109.5 614V801M1140.5 615V801M1191.5 616V801M1199.5 615V801M1234.5 615V801M364.5 903V972M278.5 715.46V801M358.5 754.13V801M366.5 715.8V801M432.5 755.6V801M546.5 739.85V801M549.5 732.7V801M743.5 691.99V801M890.5 758.6V801M901.5 749.56V801M943.5 743.63V801M1140.5 764.74V801" stroke="#4367fd" stroke-width="1" stroke-dasharray="3 4" fill="none"/><path d="M195.5 619V801M241.5 614V801M287.5 620V801M376.5 617V801M594.5 618V801M624.5 616V801M693.5 618V801M698.5 616V801M1012.5 618V801M1089.5 616V801M309.5 900V972M339.5 899V972M970.5 905V972M1112.5 900V972M223.5 760.65V801M328.5 707.19V801M449.5 694.14V801M532.5 731.68V801M806.5 747.82V801M959.5 707.15V801M1231.5 742.08V801" stroke="#4367fd" stroke-width="1" stroke-dasharray="4 3" fill="none"/><path d="M175.5 618V801M474.5 619V801M653.5 616V801M881.5 616V801M1015.5 615V801M1045.5 614V801M1073.5 618V801M201.5 905V972M1095.5 759.46V801M1152.5 751.67V801M1165.5 724.53V801M1216.5 763.71V801" stroke="#4367fd" stroke-width="1" stroke-dasharray="2 3" fill="none"/><path d="M205.5 615V801M208.5 619V801M247.5 620V801M265.5 614V801M286.5 619V801M328.5 619V801M395.5 619V801M540.5 614V801M553.5 617V801M641.5 614V801M668.5 615V801M794.5 619V801M825.5 619V801M839.5 615V801M932.5 615V801M940.5 616V801M942.5 614V801M955.5 614V801M1011.5 619V801M1078.5 616V801M1107.5 620V801M1145.5 616V801M1202.5 618V801M401.5 902V972M423.5 901V972M661.5 900V972M922.5 905V972M163.5 724.03V801M213.5 735.67V801M239.5 704.81V801M362.5 707.92V801M670.5 719.48V801M720.5 752.15V801M779.5 701.3V801" stroke="#4367fd" stroke-width="1" fill="none"/></g><rect x="158.0" y="680" width="1086.7" height="120" fill="url(#tw)"/><g filter="url(#lf)"><rect x="158.0" y="896" width="1086.7" height="72" fill="#171717"/></g><rect x="503.7" y="907" width="14" height="61" fill="url(#gd)"/><rect x="857.5" y="907" width="14" height="61" fill="url(#gd)"/><rect x="1216" y="907" width="14" height="61" fill="url(#gd)"/><g mask="url(#bm)"><g filter="url(#bf)"><rect x="158.0" y="790" width="1086.7" height="122" fill="url(#bg)"/><rect x="504.2" y="790" width="13" height="122" fill="url(#gg)" opacity="0.18"/><rect x="508.2" y="790" width="4.5" height="122" fill="url(#gg)" opacity="0.4"/><rect x="858" y="790" width="13" height="122" fill="url(#gg)" opacity="0.18"/><rect x="862" y="790" width="4.5" height="122" fill="url(#gg)" opacity="0.4"/><rect x="1216.5" y="790" width="13" height="122" fill="url(#gg)" opacity="0.18"/><rect x="1220.5" y="790" width="4.5" height="122" fill="url(#gg)" opacity="0.4"/></g></g><g fill="#3e26a8" filter="url(#nb)"><path d="M505.7 788H515.7L513.7 803L510.7 811L507.7 803Z"/><path d="M505.7 916H515.7L513.7 906L510.7 899L507.7 906Z"/><path d="M859.5 788H869.5L867.5 803L864.5 811L861.5 803Z"/><path d="M859.5 916H869.5L867.5 906L864.5 899L861.5 906Z"/><path d="M1218 788H1228L1226 803L1223 811L1220 803Z"/><path d="M1218 916H1228L1226 906L1223 899L1220 906Z"/></g></g><path d="M1244.7 968V624H158" fill="none" stroke="#262626" stroke-width="2" stroke-linecap="square"/><path d="M158 624V968H1244.7" fill="none" stroke="#151515" stroke-width="2" stroke-linecap="square"/><path d="M429.68 968v-11M429.68 624v11M701.35 968v-11M701.35 624v11M973.02 968v-11M973.02 624v11M158 968h11M1244.7 968h-11M158 891.73h11M1244.7 891.73h-11M158 815.45h11M1244.7 815.45h-11M158 739.18h11M1244.7 739.18h-11M158 662.9h11M1244.7 662.9h-11" stroke="#262626" stroke-width="2" fill="none"/><g font-size="49.6" fill="#262626" text-anchor="middle"><text x="429.68" y="1034">5</text><text x="701.35" y="1034">10</text><text x="973.02" y="1034">15</text></g><g font-size="49.6" fill="#262626" text-anchor="end"><text x="140.5" y="987">0</text><text x="140.5" y="910.73">2</text><text x="140.5" y="834.45">4</text><text x="140.5" y="758.18">6</text><text x="140.5" y="681.9">8</text></g><defs><linearGradient id="cb" x1="0" y1="1" x2="0" y2="0"><stop offset="0" stop-color="#3e26a8"/><stop offset="0.02" stop-color="#402ab4"/><stop offset="0.03" stop-color="#422ec0"/><stop offset="0.05" stop-color="#4332cb"/><stop offset="0.06" stop-color="#4537d5"/><stop offset="0.08" stop-color="#463cde"/><stop offset="0.1" stop-color="#4741e5"/><stop offset="0.11" stop-color="#4747eb"/><stop offset="0.13" stop-color="#484df0"/><stop offset="0.14" stop-color="#4852f4"/><stop offset="0.16" stop-color="#4758f8"/><stop offset="0.17" stop-color="#465efb"/><stop offset="0.19" stop-color="#4563fd"/><stop offset="0.21" stop-color="#4269fe"/><stop offset="0.22" stop-color="#3e6fff"/><stop offset="0.24" stop-color="#3875fe"/><stop offset="0.25" stop-color="#327cfc"/><stop offset="0.27" stop-color="#2f81fa"/><stop offset="0.29" stop-color="#2e87f7"/><stop offset="0.3" stop-color="#2d8cf3"/><stop offset="0.32" stop-color="#2b91ef"/><stop offset="0.33" stop-color="#2797eb"/><stop offset="0.35" stop-color="#259be8"/><stop offset="0.37" stop-color="#23a0e5"/><stop offset="0.38" stop-color="#20a5e3"/><stop offset="0.4" stop-color="#1ca9df"/><stop offset="0.41" stop-color="#18addb"/><stop offset="0.43" stop-color="#12b1d6"/><stop offset="0.44" stop-color="#08b5d0"/><stop offset="0.46" stop-color="#01b8ca"/><stop offset="0.48" stop-color="#02bac3"/><stop offset="0.49" stop-color="#0bbdbd"/><stop offset="0.51" stop-color="#19bfb6"/><stop offset="0.52" stop-color="#24c1ae"/><stop offset="0.54" stop-color="#2cc4a7"/><stop offset="0.56" stop-color="#31c69f"/><stop offset="0.57" stop-color="#37c897"/><stop offset="0.59" stop-color="#3fca8e"/><stop offset="0.6" stop-color="#4acb84"/><stop offset="0.62" stop-color="#57cc7a"/><stop offset="0.63" stop-color="#64cd6f"/><stop offset="0.65" stop-color="#72cd64"/><stop offset="0.67" stop-color="#81cc59"/><stop offset="0.68" stop-color="#8fcb4e"/><stop offset="0.7" stop-color="#9dc943"/><stop offset="0.71" stop-color="#abc739"/><stop offset="0.73" stop-color="#b9c431"/><stop offset="0.75" stop-color="#c5c22a"/><stop offset="0.76" stop-color="#d1bf27"/><stop offset="0.78" stop-color="#dcbd29"/><stop offset="0.79" stop-color="#e6bb2d"/><stop offset="0.81" stop-color="#f0ba36"/><stop offset="0.83" stop-color="#f8ba3d"/><stop offset="0.84" stop-color="#febe3c"/><stop offset="0.86" stop-color="#fec338"/><stop offset="0.87" stop-color="#fec934"/><stop offset="0.89" stop-color="#fccf30"/><stop offset="0.9" stop-color="#fad62d"/><stop offset="0.92" stop-color="#f7dc2a"/><stop offset="0.94" stop-color="#f5e327"/><stop offset="0.95" stop-color="#f5e924"/><stop offset="0.97" stop-color="#f6ef20"/><stop offset="0.98" stop-color="#f7f51b"/><stop offset="1" stop-color="#f9fb15"/></linearGradient></defs><rect x="1285.5" y="624.5" width="62" height="342.5" fill="url(#cb)"/><rect x="1285.5" y="624.5" width="62" height="342.5" fill="none" stroke="#262626" stroke-width="2"/><path d="M1347.5 932.5h-4M1347.5 818h-4M1347.5 703.6h-4" stroke="#262626" stroke-width="2" fill="none"/><g font-size="49.6" fill="#262626"><text x="1367" y="950.5">0</text><text x="1367" y="836">20</text><text x="1367" y="721.6">40</text></g><g font-size="54.6" fill="#000" text-anchor="middle"><text x="792.25" y="59.3">Signal prior to SIC</text><text x="792.25" y="541.9">Numbers of Sampling Points</text><text x="751.5" y="609.3">Signal prior to SIC STFT</text><text x="701.35" y="1097">Time/s</text><text transform="translate(51 242.8) rotate(-90)">Amplitude</text><text transform="translate(84.3 798) rotate(-90)">Frequency/kHz</text></g><text transform="translate(1471.5 786.4) rotate(-90)" font-size="49.6" fill="#262626" text-anchor="middle">Amplitude/dB</text><path d="M1327 529.5L1349 551.5M1327 551.5L1349 529.5" stroke="#262626" stroke-width="2.3"/><g fill="#262626"><text x="1384.5" y="552" font-size="49.6" text-anchor="middle">10</text><text x="1406.5" y="528.8" font-size="39">5</text></g></svg></body></html>
